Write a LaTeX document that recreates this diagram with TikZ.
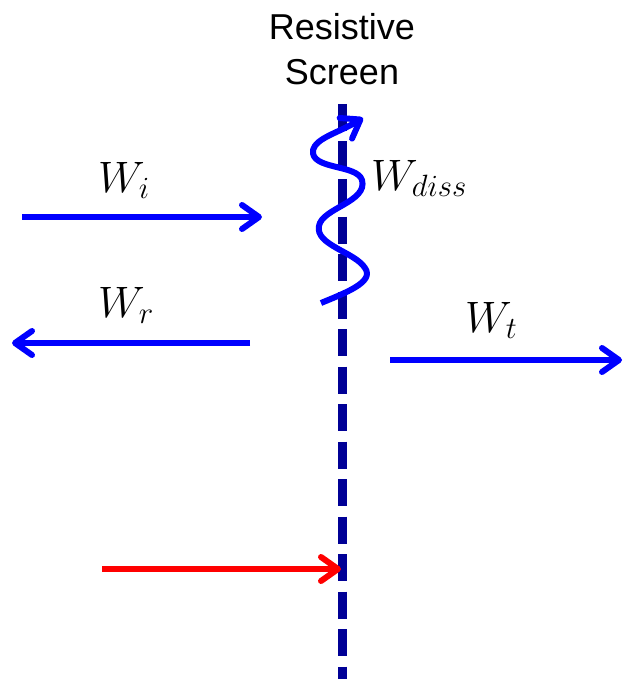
\RequirePackage{fix-cm}
\documentclass[tikz,border=0pt]{standalone}
\usepackage{fontspec}
\newfontfamily\labelfont{Liberation Sans}
\usetikzlibrary{arrows.meta}
\definecolor{screenblue}{RGB}{0,0,150}
\definecolor{wblue}{RGB}{0,0,255}
\definecolor{wred}{RGB}{255,0,0}
\begin{document}
\begin{tikzpicture}[x=1pt,y=-1pt,
  barb/.style={-{Straight Barb[length=17pt,width=24pt,line cap=round,line join=round]}},
  flow/.style={barb, line width=6pt, wblue},
  probe/.style={barb, line width=6pt, wred},
  screenline/.style={line width=9pt, screenblue, dash pattern=on 27pt off 10.5pt},
  mathlabel/.style={inner sep=0pt, anchor=base west, font=\fontsize{44}{50}\selectfont},
  title/.style={inner sep=0pt, anchor=north, align=center, font=\labelfont\fontsize{36}{45}\selectfont}
]
\useasboundingbox (0,0) rectangle (624,679);

% screen
\coordinate (stop) at (342,104);
\coordinate (sbot) at (342,679);
\draw[screenline] (stop) -- (sbot);
\node[title] (scr) at (342,13) {Resistive\\Screen};

% incident
\coordinate (wia) at (22,217);
\coordinate (wib) at (262,217);
\draw[flow] (wia) -- (wib);
\node[mathlabel] (wi) at (98,192) {$W_i$};

% reflected
\coordinate (wra) at (250,343);
\coordinate (wrb) at (12,343);
\draw[flow] (wra) -- (wrb);
\node[mathlabel] (wr) at (98,317) {$W_r$};

% transmitted
\coordinate (wta) at (390,360);
\coordinate (wtb) at (622,360);
\draw[flow] (wta) -- (wtb);
\node[mathlabel] (wt) at (465,332) {$W_t$};

% dissipated
\coordinate (wd0) at (321,303);
\coordinate (wd1) at (363,118);
\draw[flow, line join=round]
  (wd0) .. controls (345,293) and (375,282) .. (365,268)
        .. controls (355,252) and (315,245) .. (319,226)
        .. controls (322,208) and (368,202) .. (362,180)
        .. controls (357,164) and (310,170) .. (313,150)
        .. controls (316,138) and (338,133) .. (wd1);
\node[mathlabel] (wd) at (371,190) {$W_{diss}$};

% red arrow
\coordinate (ra) at (102,569);
\coordinate (rb) at (341,569);
\draw[probe] (ra) -- (rb);
\end{tikzpicture}
\end{document}
